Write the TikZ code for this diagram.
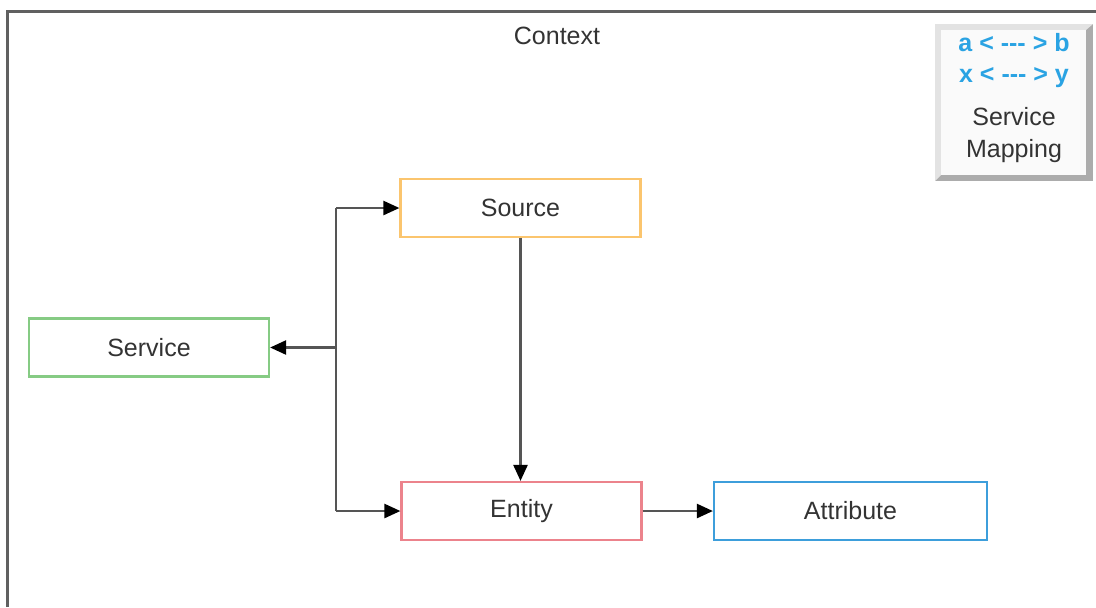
\documentclass[tikz,border=0pt]{standalone}
\usepackage{fontspec}
\setmainfont{Liberation Sans}
\usetikzlibrary{arrows.meta,positioning}

\definecolor{txtgray}{HTML}{333333}
\definecolor{linegray}{HTML}{555555}
\definecolor{srcorange}{HTML}{FBC56E}
\definecolor{svcgreen}{HTML}{86CB84}
\definecolor{entred}{HTML}{EC838C}
\definecolor{attblue}{HTML}{3D9EDB}
\definecolor{mapblue}{HTML}{2AA3E3}

\tikzset{
  box/.style={draw, line width=1.1pt, minimum width=120pt, minimum height=29pt,
    text=txtgray, font=\fontsize{12.5}{15}\selectfont},
  arr/.style={draw=linegray, line width=1.2pt,
    -{Triangle[length=8pt,width=7pt,color=black]}},
}

\begin{document}
\begin{tikzpicture}[x=0.5pt,y=-0.5pt]
    \useasboundingbox (0,0) rectangle (1096,607);
    % frame
    \draw[line width=1.5pt, draw=gray!75!black] (7,607) -- (7,11) -- (1096,11);
    \node[text=txtgray, font=\fontsize{12.5}{15}\selectfont] (context) at (557,36) {Context};

    % mapping legend
    \fill[gray!65] (935,24) rectangle (1093,181);
    \fill[gray!22] (935,181) -- (935,24) -- (1093,24) -- (1086,30) -- (941,30) -- (941,175) -- cycle;
    \fill[gray!4] (941,30) rectangle (1086,175);
    \node[align=center, text=txtgray, font=\fontsize{12.5}{15.75}\selectfont] (mapping) at (1014,98)
      {\textcolor{mapblue}{\textbf{a < {-}{-}{-} > b}}\\
       \textcolor{mapblue}{\textbf{x < {-}{-}{-} > y}}\\[5.75pt]
       Service\\Mapping};

    \node[box, draw=srcorange] (source) at (520.5,208) {Source};
    \node[box, draw=svcgreen] (service) at (149,347.5) {Service};
    \node[box, draw=entred] (entity) at (521.5,511) {Entity};
    \node[box, draw=attblue, minimum width=136.5pt] (attribute) at (850.5,511) {Attribute};

    \coordinate (forktop) at (336,208);
    \coordinate (forkmid) at (336,347.5);
    \coordinate (forkbot) at (336,511);

    \draw[draw=linegray, line width=1.2pt] (forktop) -- (forkbot);
    \draw[arr] (forktop) -- (source);
    \draw[arr] (forkmid) -- (service);
    \draw[arr] (forkbot) -- (entity);
    \draw[arr] (source.south) -- (source.south |- entity.north);
    \draw[arr] (entity) -- (attribute);
\end{tikzpicture}
\end{document}
